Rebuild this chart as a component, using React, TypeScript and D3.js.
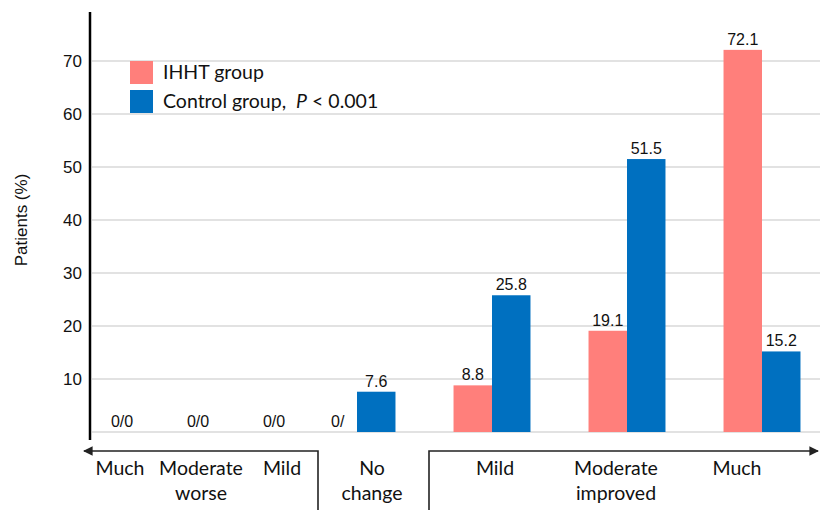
import React from "react";
import * as d3 from "d3";

const groups = ["No change", "Mild", "Moderate improved", "Much"];
const ihht = [0, 8.8, 19.1, 72.1];
const control = [7.6, 25.8, 51.5, 15.2];
const ihhtLabels = ["0/", "8.8", "19.1", "72.1"];
const controlLabels = ["7.6", "25.8", "51.5", "15.2"];
const worseCats = ["Much", "Moderate worse", "Mild"];
const worseLabelLines = [["Much"], ["Moderate", "worse"], ["Mild"]];
const zeroLabels = ["0/0", "0/0", "0/0"];
const improvedCats = ["Mild", "Moderate improved", "Much"];
const improvedLabelLines = [["Mild"], ["Moderate", "improved"], ["Much"]];
const noChangeLines = ["No", "change"];
const yTicks = [10, 20, 30, 40, 50, 60, 70];
const legendItems = ["IHHT group", "Control group"];

const W = 820;
const H = 510;
const PINK = "#FF7F7B";
const BLUE = "#0070C0";
const NUM_FONT = "'Liberation Sans', Arial, sans-serif";
const CAT_FONT = "Lato, 'Open Sans', sans-serif";

export default function App() {
  const y = d3.scaleLinear().domain([0, 80]).range([432, 8]);
  const xGroup = d3
    .scaleBand<string>()
    .domain(groups)
    .range([289.5, 829.5])
    .paddingInner(0.43)
    .paddingOuter(0.215);
  const bw = xGroup.bandwidth() / 2;
  const xZero = d3.scalePoint<string>().domain(["a", "b", "c"]).range([122, 274]);
  const xWorse = d3.scalePoint<string>().domain(worseCats).range([120, 282]);
  const xImproved = d3.scalePoint<string>().domain(improvedCats).range([495, 737]);
  const axisX = 90;
  const arrowY = 451;

  return (
    <svg
      width={W}
      height={H}
      style={{ position: "absolute", left: 0, top: 0, background: "#fff" }}
    >
      <defs>
        <marker
          id="arrow"
          viewBox="0 0 10 10"
          refX="9"
          refY="5"
          markerWidth="6"
          markerHeight="6"
          orient="auto-start-reverse"
          markerUnits="strokeWidth"
        >
          <path d="M0,0 L10,5 L0,10 z" fill="#222" />
        </marker>
      </defs>

      {/* gridlines */}
      {yTicks.map((t) => (
        <line
          key={t}
          x1={axisX + 2}
          x2={W}
          y1={y(t)}
          y2={y(t)}
          stroke="#d9d9d9"
          strokeWidth={1.5}
        />
      ))}
      <line x1={axisX + 2} x2={W} y1={y(0)} y2={y(0)} stroke="#d9d9d9" strokeWidth={1.5} />

      {/* y axis */}
      <line x1={axisX} x2={axisX} y1={12} y2={440} stroke="#000" strokeWidth={2.5} />
      {yTicks.map((t) => (
        <text
          key={t}
          x={82}
          y={y(t)}
          dy="0.35em"
          textAnchor="end"
          fontFamily={NUM_FONT}
          fontSize={17}
          fill="#111"
        >
          {t}
        </text>
      ))}
      <text
        transform={`translate(27,${y(40)}) rotate(-90)`}
        textAnchor="middle"
        fontFamily={NUM_FONT}
        fontSize={17}
        fill="#111"
      >
        Patients (%)
      </text>

      {/* bars */}
      {groups.map((g, i) => {
        const x0 = xGroup(g) as number;
        return (
          <g key={g}>
            {ihht[i] > 0 && (
              <rect
                x={x0}
                y={y(ihht[i])}
                width={bw}
                height={y(0) - y(ihht[i])}
                fill={PINK}
              />
            )}
            <rect
              x={x0 + bw}
              y={y(control[i])}
              width={bw}
              height={y(0) - y(control[i])}
              fill={BLUE}
            />
            <text
              x={x0 + bw / 2}
              y={y(ihht[i]) - 5}
              textAnchor="middle"
              fontFamily={NUM_FONT}
              fontSize={16}
              fill="#111"
            >
              {ihhtLabels[i]}
            </text>
            <text
              x={x0 + bw * 1.5}
              y={y(control[i]) - 5}
              textAnchor="middle"
              fontFamily={NUM_FONT}
              fontSize={16}
              fill="#111"
            >
              {controlLabels[i]}
            </text>
          </g>
        );
      })}
      {zeroLabels.map((l, i) => (
        <text
          key={i}
          x={xZero(["a", "b", "c"][i]) as number}
          y={y(0) - 5}
          textAnchor="middle"
          fontFamily={NUM_FONT}
          fontSize={16}
          fill="#111"
        >
          {l}
        </text>
      ))}

      {/* legend */}
      {legendItems.map((l, i) => (
        <g key={l} transform={`translate(130,${61 + i * 29})`}>
          <rect width={23} height={23} fill={i === 0 ? PINK : BLUE} />
          <text
            x={33}
            y={18}
            fontFamily={CAT_FONT}
            fontSize={19.5}
            fill="#111"
            style={{ whiteSpace: "pre" }}
          >
            {l}
            {i === 1 && (
              <>
                {",  "}
                <tspan fontStyle="italic">P</tspan>
                {" < 0.001"}
              </>
            )}
          </text>
        </g>
      ))}

      {/* bottom arrows */}
      <path
        d={`M318,${H} L318,${arrowY} L84,${arrowY}`}
        fill="none"
        stroke="#222"
        strokeWidth={1.6}
        markerEnd="url(#arrow)"
      />
      <path
        d={`M429,${H} L429,${arrowY} L818,${arrowY}`}
        fill="none"
        stroke="#222"
        strokeWidth={1.6}
        markerEnd="url(#arrow)"
      />

      {/* category labels */}
      {worseCats.map((c, i) => (
        <text
          key={c}
          x={xWorse(c) as number}
          y={475}
          textAnchor="middle"
          fontFamily={CAT_FONT}
          fontSize={19.5}
          fill="#111"
        >
          {worseLabelLines[i].map((ln, j) => (
            <tspan key={j} x={xWorse(c) as number} dy={j === 0 ? 0 : 25}>
              {ln}
            </tspan>
          ))}
        </text>
      ))}
      <text x={372} y={475} textAnchor="middle" fontFamily={CAT_FONT} fontSize={19.5} fill="#111">
        {noChangeLines.map((ln, j) => (
          <tspan key={j} x={372} dy={j === 0 ? 0 : 25}>
            {ln}
          </tspan>
        ))}
      </text>
      {improvedCats.map((c, i) => (
        <text
          key={c}
          x={xImproved(c) as number}
          y={475}
          textAnchor="middle"
          fontFamily={CAT_FONT}
          fontSize={19.5}
          fill="#111"
        >
          {improvedLabelLines[i].map((ln, j) => (
            <tspan key={j} x={xImproved(c) as number} dy={j === 0 ? 0 : 25}>
              {ln}
            </tspan>
          ))}
        </text>
      ))}
    </svg>
  );
}
